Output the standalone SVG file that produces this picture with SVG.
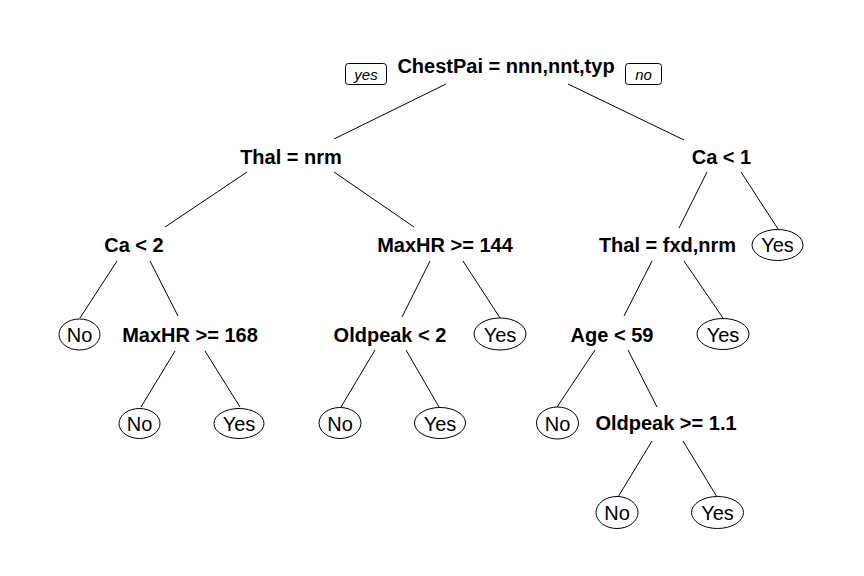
<svg xmlns="http://www.w3.org/2000/svg" width="864" height="576" viewBox="0 0 864 576">
<style>
.split{font-family:"Liberation Sans",Arial,sans-serif;font-size:20px;font-weight:bold;text-anchor:middle;fill:#000}
.leaf{font-family:"Liberation Sans",Arial,sans-serif;font-size:20px;text-anchor:middle;fill:#000}
.lab{font-family:"Liberation Sans",Arial,sans-serif;font-size:15px;font-style:italic;text-anchor:middle;fill:#000}
ellipse,.box{fill:#fff;stroke:#000;stroke-width:1}
#connectors line{stroke:#000;stroke-width:1}
</style>
<rect width="864" height="576" style="fill:#fff;stroke:none"/>
<g id="connectors">
<line x1="446" y1="84" x2="334" y2="139"/>
<line x1="568" y1="84" x2="684" y2="140"/>
<line x1="247" y1="172" x2="165" y2="227"/>
<line x1="334" y1="172" x2="414" y2="227"/>
<line x1="707" y1="172" x2="679" y2="228"/>
<line x1="741" y1="172" x2="778" y2="229"/>
<line x1="117" y1="261" x2="80" y2="318"/>
<line x1="150" y1="261" x2="178" y2="316"/>
<line x1="430" y1="261" x2="402" y2="317"/>
<line x1="463" y1="261" x2="500" y2="318"/>
<line x1="652" y1="261" x2="624" y2="316"/>
<line x1="684" y1="261" x2="723" y2="318"/>
<line x1="175" y1="351" x2="141" y2="407"/>
<line x1="205" y1="351" x2="240" y2="407"/>
<line x1="375" y1="350" x2="341" y2="407"/>
<line x1="406" y1="350" x2="439" y2="407"/>
<line x1="595" y1="350" x2="557" y2="407"/>
<line x1="628" y1="350" x2="657" y2="407"/>
<line x1="652" y1="441" x2="618" y2="497"/>
<line x1="683" y1="441" x2="717" y2="497"/>
</g>
<g id="n1">
<text class="split" x="506" y="73">ChestPai = nnn,nnt,typ</text>
<rect class="box" x="345.5" y="63.5" width="41" height="21" rx="3"/>
<text class="lab" x="366" y="80">yes</text>
<rect class="box" x="625.5" y="63.5" width="36" height="21" rx="3"/>
<text class="lab" x="643.5" y="80">no</text>
</g>
<g id="n2"><text class="split" x="291" y="164">Thal = nrm</text></g>
<g id="n3"><text class="split" x="721.5" y="164">Ca &lt; 1</text></g>
<g id="n4"><text class="split" x="134" y="252">Ca &lt; 2</text></g>
<g id="n5"><text class="split" x="445" y="252">MaxHR &gt;= 144</text></g>
<g id="n6"><text class="split" x="667.5" y="252">Thal = fxd,nrm</text></g>
<g id="n7"><ellipse cx="777.5" cy="245" rx="25.5" ry="15.5"/><text class="leaf" x="777.5" y="252">Yes</text></g>
<g id="n8"><ellipse cx="79.5" cy="334.5" rx="20.5" ry="15.5"/><text class="leaf" x="79.5" y="342">No</text></g>
<g id="n9"><text class="split" x="190" y="342">MaxHR &gt;= 168</text></g>
<g id="n10"><text class="split" x="390" y="342">Oldpeak &lt; 2</text></g>
<g id="n11"><ellipse cx="500" cy="334" rx="26" ry="16"/><text class="leaf" x="500" y="342">Yes</text></g>
<g id="n12"><text class="split" x="612" y="342">Age &lt; 59</text></g>
<g id="n13"><ellipse cx="723" cy="334" rx="26" ry="15.5"/><text class="leaf" x="723" y="342">Yes</text></g>
<g id="n14"><ellipse cx="139.5" cy="423.5" rx="20.5" ry="15"/><text class="leaf" x="139.5" y="431">No</text></g>
<g id="n15"><ellipse cx="239" cy="423.5" rx="25" ry="15"/><text class="leaf" x="239" y="431">Yes</text></g>
<g id="n16"><ellipse cx="340" cy="423" rx="21" ry="15.5"/><text class="leaf" x="340" y="431">No</text></g>
<g id="n17"><ellipse cx="440" cy="423" rx="25.5" ry="15.5"/><text class="leaf" x="440" y="431">Yes</text></g>
<g id="n18"><ellipse cx="557.5" cy="423" rx="21" ry="16"/><text class="leaf" x="557.5" y="431">No</text></g>
<g id="n19"><text class="split" x="666" y="430">Oldpeak &gt;= 1.1</text></g>
<g id="n20"><ellipse cx="617" cy="512.5" rx="21" ry="16"/><text class="leaf" x="617" y="520">No</text></g>
<g id="n21"><ellipse cx="717.5" cy="512.5" rx="26" ry="16"/><text class="leaf" x="717.5" y="520">Yes</text></g>
</svg>
